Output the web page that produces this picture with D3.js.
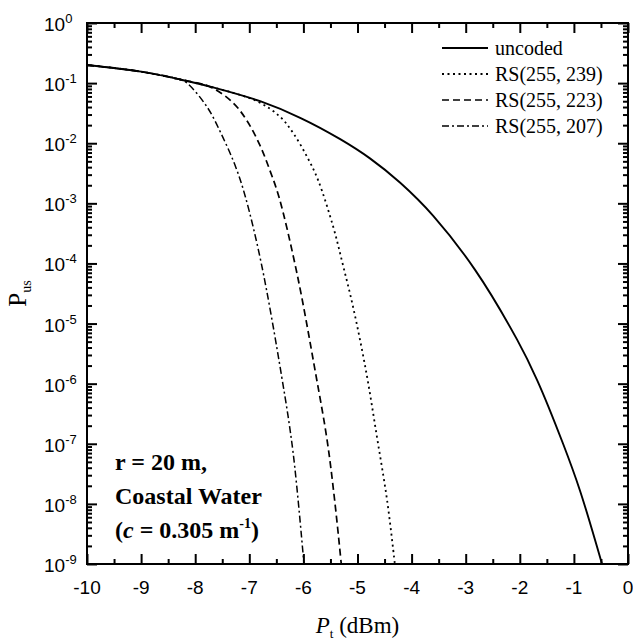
<!DOCTYPE html>
<html>
<head>
<meta charset="utf-8">
<script src="https://cdn.jsdelivr.net/npm/d3@7/dist/d3.min.js"></script>
<style>
  body { margin: 0; background: #fff; }
</style>
</head>
<body>
<div id="chart"></div>
<script>
// data: transmit power (dBm) and unsuccessful probability
let uncodedX = [-10, -9, -8.28, -7.67, -6.8, -6.06, -5.32, -4.77, -4.21, -3.6, -2.83, -2.05, -1.68, -1.2, -0.89, -0.48];
let uncodedP = [2.0e-1, 1.55e-1, 1.15e-1, 8.5e-2, 5.0e-2, 2.65e-2, 1.17e-2, 5.6e-3, 2.2e-3, 6.2e-4, 7.9e-5, 5.4e-6, 1.15e-6, 1.0e-7, 1.69e-8, 1.0e-9];

let rs239X = [-10, -9, -8.28, -7.67, -6.86, -6.43, -6.19, -5.93, -5.73, -5.45, -5.27, -5.08, -4.84, -4.64, -4.45, -4.31];
let rs239P = [2.0e-1, 1.55e-1, 1.15e-1, 8.5e-2, 5.0e-2, 2.75e-2, 1.48e-2, 5.9e-3, 2.45e-3, 4.1e-4, 9.5e-5, 1.86e-5, 1.58e-6, 1.29e-7, 1.1e-8, 1.0e-9];

let rs223X = [-10, -9, -8.28, -7.73, -7.3, -7.04, -6.8, -6.62, -6.45, -6.12, -5.77, -5.56, -5.42, -5.3];
let rs223P = [2.0e-1, 1.55e-1, 1.15e-1, 8.7e-2, 4.7e-2, 2.34e-2, 9.1e-3, 3.55e-3, 1.26e-3, 6.9e-5, 1.41e-6, 1.12e-7, 1.1e-8, 1.0e-9];

let rs207X = [-10, -9, -8.28, -8.15, -7.78, -7.49, -7.25, -7.07, -6.78, -6.4, -6.19, -5.99];
let rs207P = [2.0e-1, 1.55e-1, 1.15e-1, 1.0e-1, 4.0e-2, 1.26e-2, 4.0e-3, 1.26e-3, 1.02e-4, 1.29e-6, 7.1e-8, 1.0e-9];

let seriesNames = ["uncoded", "RS(255, 239)", "RS(255, 223)", "RS(255, 207)"];
let xTicks = [-10, -9, -8, -7, -6, -5, -4, -3, -2, -1, 0];
let yExponents = [0, -1, -2, -3, -4, -5, -6, -7, -8, -9];

let width = 633, height = 642;
let mLeft = 87, mRight = 628, mTop = 23, mBottom = 564;

let svg = d3.select("#chart").append("svg")
    .attr("width", width)
    .attr("height", height);

let x = d3.scaleLinear().domain([-10, 0]).range([mLeft, mRight]);
let y = d3.scaleLog().domain([1e-9, 1]).range([mBottom, mTop]);

let sansFont = "'Liberation Sans', Arial, sans-serif";
let serifFont = "'Liberation Serif', 'Times New Roman', serif";

// minor ticks
let xMinor = d3.range(-9.5, 0, 1);
let yMinor = [];
for (let e = -9; e < 0; e++) {
    for (let m = 2; m <= 9; m++) yMinor.push(m * Math.pow(10, e));
}
let yMajor = yExponents.map(e => Math.pow(10, e));

function styleAxis(g) {
    g.select(".domain").remove();
    g.selectAll(".tick line").attr("stroke", "#000").attr("stroke-width", 2);
    g.selectAll(".tick text").remove();
}

// bottom & top
svg.append("g").attr("transform", "translate(0," + mBottom + ")")
    .call(d3.axisBottom(x).tickValues(xTicks).tickSize(-10)).call(styleAxis);
svg.append("g").attr("transform", "translate(0," + mBottom + ")")
    .call(d3.axisBottom(x).tickValues(xMinor).tickSize(-5)).call(styleAxis);
svg.append("g").attr("transform", "translate(0," + mTop + ")")
    .call(d3.axisTop(x).tickValues(xTicks).tickSize(-10)).call(styleAxis);
svg.append("g").attr("transform", "translate(0," + mTop + ")")
    .call(d3.axisTop(x).tickValues(xMinor).tickSize(-5)).call(styleAxis);

// left & right
svg.append("g").attr("transform", "translate(" + mLeft + ",0)")
    .call(d3.axisLeft(y).tickValues(yMajor).tickSize(-10)).call(styleAxis);
svg.append("g").attr("transform", "translate(" + mLeft + ",0)")
    .call(d3.axisLeft(y).tickValues(yMinor).tickSize(-5)).call(styleAxis);
svg.append("g").attr("transform", "translate(" + mRight + ",0)")
    .call(d3.axisRight(y).tickValues(yMajor).tickSize(-10)).call(styleAxis);
svg.append("g").attr("transform", "translate(" + mRight + ",0)")
    .call(d3.axisRight(y).tickValues(yMinor).tickSize(-5)).call(styleAxis);

// frame
svg.append("rect")
    .attr("x", mLeft).attr("y", mTop)
    .attr("width", mRight - mLeft).attr("height", mBottom - mTop)
    .attr("fill", "none").attr("stroke", "#000").attr("stroke-width", 2);

// x tick labels
svg.selectAll(".xlab").data(xTicks).enter().append("text")
    .attr("class", "xlab")
    .attr("x", d => x(d))
    .attr("y", mBottom + 30)
    .attr("text-anchor", "middle")
    .style("font-family", sansFont)
    .style("font-size", "19px")
    .text(d => d === 0 ? "0" : String(d));

// y tick labels
let ylab = svg.selectAll(".ylab").data(yExponents).enter().append("text")
    .attr("class", "ylab")
    .attr("x", 44)
    .attr("y", d => y(Math.pow(10, d)) + 8)
    .style("font-family", sansFont)
    .style("font-size", "19px");
ylab.append("tspan").text("10");
ylab.append("tspan")
    .attr("dy", -8)
    .style("font-size", "13px")
    .text(d => d === 0 ? "0" : "-" + Math.abs(d));

// axis titles
let xt = svg.append("text")
    .attr("x", (mLeft + mRight) / 2)
    .attr("y", 633)
    .attr("text-anchor", "middle")
    .style("font-family", serifFont)
    .style("font-size", "23px");
xt.append("tspan").style("font-style", "italic").text("P");
xt.append("tspan").attr("dy", 5).style("font-size", "13px").text("t");
xt.append("tspan").attr("dy", -5).text(" (dBm)");

let yt = svg.append("text")
    .attr("transform", "translate(26," + ((mTop + mBottom) / 2) + ") rotate(-90)")
    .attr("text-anchor", "middle")
    .style("font-family", serifFont)
    .style("font-size", "25px");
yt.append("tspan").text("P");
yt.append("tspan").attr("dy", 5).style("font-size", "14px").text("us");

// curves
let series = [
    {name: seriesNames[0], xs: uncodedX, ps: uncodedP, dash: null, w: 1.9},
    {name: seriesNames[1], xs: rs239X, ps: rs239P, dash: "2,3.5", w: 1.8},
    {name: seriesNames[2], xs: rs223X, ps: rs223P, dash: "7,4", w: 1.7},
    {name: seriesNames[3], xs: rs207X, ps: rs207P, dash: "7,3,2,3", w: 1.5}
];

svg.append("clipPath").attr("id", "clip")
    .append("rect").attr("x", mLeft).attr("y", mTop)
    .attr("width", mRight - mLeft).attr("height", mBottom - mTop);

let line = d3.line()
    .x(d => x(d[0]))
    .y(d => y(d[1]))
    .curve(d3.curveCatmullRom.alpha(0.5));

svg.append("g").attr("clip-path", "url(#clip)")
    .selectAll("path").data(series).enter().append("path")
    .attr("d", s => line(s.xs.map((v, i) => [v, s.ps[i]])))
    .attr("fill", "none")
    .attr("stroke", "#000")
    .attr("stroke-width", s => s.w)
    .attr("stroke-dasharray", s => s.dash);

// legend
let legend = svg.append("g").attr("transform", "translate(442,48)");
let rows = legend.selectAll("g").data(series).enter().append("g")
    .attr("transform", (d, i) => "translate(0," + (i * 26) + ")");
rows.append("line")
    .attr("x1", 0).attr("x2", 46)
    .attr("stroke", "#000")
    .attr("stroke-width", s => s.w)
    .attr("stroke-dasharray", s => s.dash);
rows.append("text")
    .attr("x", 53).attr("y", 7)
    .style("font-family", serifFont)
    .style("font-size", "20px")
    .text(s => s.name);

// annotation
let note = svg.append("text")
    .style("font-family", serifFont)
    .style("font-size", "24px")
    .style("font-weight", "bold");
note.append("tspan").attr("x", 115).attr("y", 470).text("r = 20 m,");
note.append("tspan").attr("x", 115).attr("y", 504).text("Coastal Water");
note.append("tspan").attr("x", 115).attr("y", 538).text("(");
note.append("tspan").style("font-style", "italic").text("c");
note.append("tspan").text(" = 0.305 m");
note.append("tspan").attr("dy", -10).style("font-size", "14px").text("-1");
note.append("tspan").attr("dy", 10).text(")");
</script>
</body>
</html>
